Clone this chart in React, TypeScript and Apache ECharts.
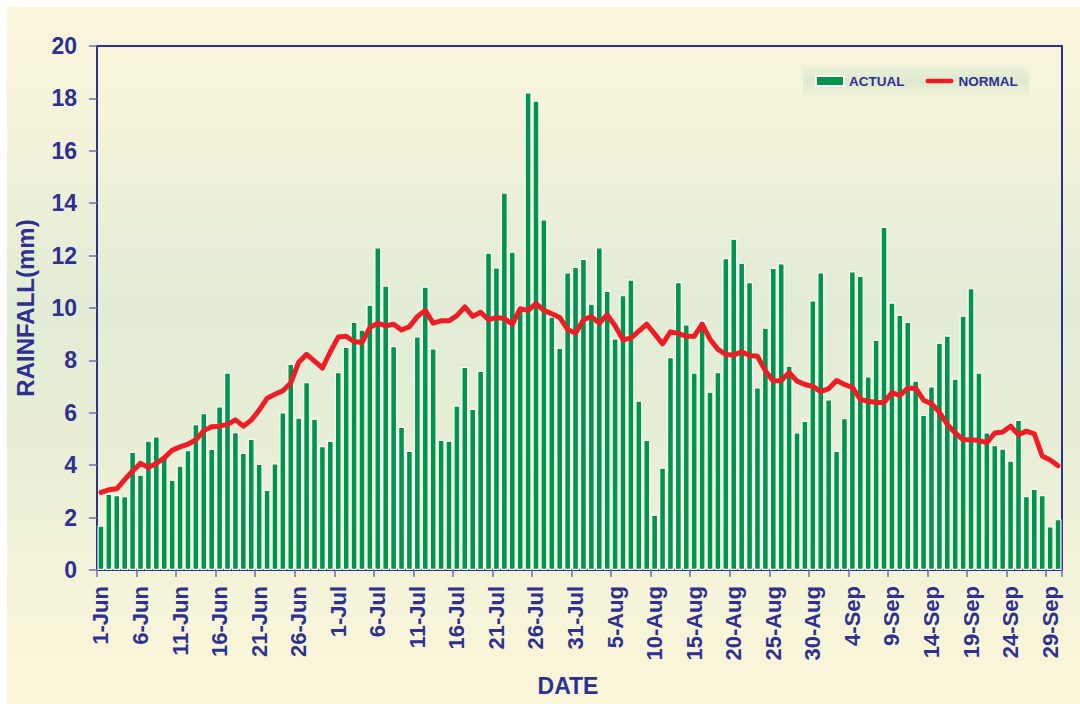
import React, { useEffect, useRef } from "react";
import * as echarts from "echarts";

const MONTHS: [string, number][] = [
  ["Jun", 30],
  ["Jul", 31],
  ["Aug", 31],
  ["Sep", 30],
];

const categories: string[] = [];
MONTHS.forEach(([m, n]) => {
  for (let d = 1; d <= n; d++) categories.push(`${d}-${m}`);
});

const actual = [
  1.70, 2.91, 2.86, 2.82, 4.51, 3.64, 4.94, 5.10, 4.30, 3.44,
  3.99, 4.58, 5.57, 5.99, 4.63, 6.25, 7.54, 5.27, 4.47, 5.01,
  4.05, 3.06, 4.07, 6.02, 7.87, 5.82, 7.17, 5.78, 4.73, 4.93,
  7.56, 8.52, 9.47, 9.18, 10.13, 12.32, 10.86, 8.55, 5.47, 4.55,
  8.92, 10.82, 8.46, 4.97, 4.94, 6.28, 7.76, 6.15, 7.60, 12.12,
  11.55, 14.41, 12.15, 10.08, 18.23, 17.92, 13.39, 9.67, 8.48, 11.36,
  11.57, 11.88, 10.17, 12.32, 10.66, 8.84, 10.49, 11.09, 6.47, 4.97,
  2.11, 3.91, 8.13, 10.99, 9.38, 7.54, 9.51, 6.81, 7.56, 11.91,
  12.65, 11.73, 10.99, 6.97, 9.25, 11.53, 11.71, 7.80, 5.26, 5.69,
  10.29, 11.36, 6.52, 4.55, 5.80, 11.40, 11.23, 7.39, 8.79, 13.10,
  10.21, 9.75, 9.47, 7.23, 5.92, 7.01, 8.68, 8.95, 7.31, 9.71,
  10.76, 7.54, 5.26, 4.77, 4.64, 4.18, 5.73, 2.82, 3.10, 2.86,
  1.67, 1.94,
];

const normal = [
  2.96, 3.06, 3.10, 3.45, 3.78, 4.07, 3.91, 4.07, 4.28, 4.57,
  4.70, 4.80, 4.97, 5.32, 5.47, 5.49, 5.56, 5.73, 5.49, 5.72,
  6.10, 6.55, 6.71, 6.84, 7.14, 7.93, 8.23, 7.97, 7.71, 8.33,
  8.89, 8.92, 8.72, 8.68, 9.25, 9.42, 9.32, 9.38, 9.16, 9.29,
  9.67, 9.91, 9.42, 9.51, 9.51, 9.71, 10.04, 9.68, 9.84, 9.55,
  9.64, 9.60, 9.38, 9.97, 9.91, 10.17, 9.91, 9.78, 9.64, 9.18,
  9.04, 9.55, 9.67, 9.42, 9.74, 9.32, 8.79, 8.85, 9.12, 9.38,
  9.01, 8.63, 9.09, 9.03, 8.92, 8.92, 9.38, 8.81, 8.42, 8.23,
  8.20, 8.33, 8.19, 8.16, 7.60, 7.21, 7.23, 7.54, 7.21, 7.08,
  7.01, 6.81, 6.92, 7.23, 7.08, 6.97, 6.51, 6.44, 6.39, 6.39,
  6.77, 6.66, 6.94, 6.94, 6.48, 6.35, 6.02, 5.56, 5.23, 4.97,
  4.97, 4.94, 4.86, 5.23, 5.27, 5.49, 5.16, 5.30, 5.20, 4.35,
  4.20, 3.98,
];

const yTicks = { min: 0, max: 20, interval: 2 };

const BLUE = "#2e3192";
const FONT = "'Liberation Sans', Arial, sans-serif";
const LINE_ICON =
  "path://M2.5,0 L28.5,0 A2.5,2.5 0 0 1 28.5,5 L2.5,5 A2.5,2.5 0 0 1 2.5,0 Z";

export default function App() {
  const ref = useRef<HTMLDivElement>(null);

  useEffect(() => {
    if (!ref.current) return;
    const chart = echarts.init(ref.current, null, { renderer: "svg" });
    chart.setOption({
      animation: false,
      backgroundColor: "#ffffff",
      textStyle: { fontFamily: FONT },
      graphic: [
        {
          type: "rect",
          z: -100,
          silent: true,
          shape: { x: 7, y: 7, width: 1073, height: 697 },
          style: {
            fill: new echarts.graphic.LinearGradient(0, 0, 0, 1, [
              { offset: 0, color: "#f9f6dc" },
              { offset: 0.15, color: "#f5f3d9" },
              { offset: 0.42, color: "#e2ecd6" },
              { offset: 0.62, color: "#e7eed5" },
              { offset: 0.85, color: "#f6f4d8" },
              { offset: 1, color: "#faf6da" },
            ]),
          },
        },
      ],
      grid: {
        left: 97,
        top: 46,
        width: 965,
        height: 524,
        show: true,
        borderColor: BLUE,
        borderWidth: 2,
        backgroundColor: "transparent",
      },
      legend: {
        left: 803,
        top: 66,
        padding: [8, 11, 8, 12],
        itemWidth: 28,
        itemHeight: 10,
        itemGap: 21,
        backgroundColor: new echarts.graphic.LinearGradient(0, 0, 0, 1, [
          { offset: 0, color: "#eef2d8" },
          { offset: 0.5, color: "#dde9cf" },
          { offset: 1, color: "#f0f2d6" },
        ]),
        textStyle: {
          color: BLUE,
          fontWeight: "bold",
          fontSize: 13.5,
          fontFamily: FONT,
        },
        data: [
          { name: "ACTUAL", icon: "rect" },
          { name: "NORMAL", icon: LINE_ICON, itemStyle: { color: "#ee1d25" } },
        ],
      },
      xAxis: {
        type: "category",
        data: categories,
        boundaryGap: true,
        name: "DATE",
        nameLocation: "middle",
        nameGap: 104,
        nameTextStyle: {
          color: BLUE,
          fontWeight: "bold",
          fontSize: 23,
          fontFamily: FONT,
          padding: [0, 23, 0, 0],
        },
        axisLine: { lineStyle: { color: BLUE, width: 2 } },
        axisTick: {
          show: true,
          interval: 4,
          length: 7,
          alignWithLabel: false,
          lineStyle: { color: "#6a6fb0", width: 1.5 },
        },
        axisLabel: {
          interval: 4,
          rotate: 90,
          margin: 16,
          color: BLUE,
          fontWeight: "bold",
          fontSize: 22,
          fontFamily: FONT,
        },
        splitLine: { show: false },
      },
      yAxis: {
        type: "value",
        min: yTicks.min,
        max: yTicks.max,
        interval: yTicks.interval,
        name: "RAINFALL(mm)",
        nameLocation: "middle",
        nameRotate: 90,
        nameGap: 60,
        nameTextStyle: {
          color: BLUE,
          fontWeight: "bold",
          fontSize: 24,
          fontFamily: FONT,
        },
        axisLine: { show: true, lineStyle: { color: BLUE, width: 2 } },
        axisTick: {
          show: true,
          length: 8,
          lineStyle: { color: "#6a6fb0", width: 1.5 },
        },
        axisLabel: {
          margin: 20,
          color: BLUE,
          fontWeight: "bold",
          fontSize: 23,
          fontFamily: FONT,
        },
        splitLine: { show: false },
      },
      series: [
        {
          name: "ACTUAL",
          type: "bar",
          data: actual,
          barWidth: 7,
          itemStyle: {
            color: "#00954a",
            borderColor: "#ffffff",
            borderWidth: 1.2,
          },
          z: 2,
        },
        {
          name: "NORMAL",
          type: "line",
          data: normal,
          symbol: "none",
          showSymbol: false,
          smooth: false,
          lineStyle: {
            color: "#ee1d25",
            width: 5,
            join: "round",
            cap: "round",
          },
          itemStyle: { color: "#ee1d25" },
          z: 3,
        },
      ],
    });
    return () => chart.dispose();
  }, []);

  return (
    <div
      style={{
        position: "fixed",
        left: 0,
        top: 0,
        width: 1080,
        height: 704,
        background: "#ffffff",
      }}
    >
      <div ref={ref} style={{ width: 1080, height: 704 }} />
    </div>
  );
}
